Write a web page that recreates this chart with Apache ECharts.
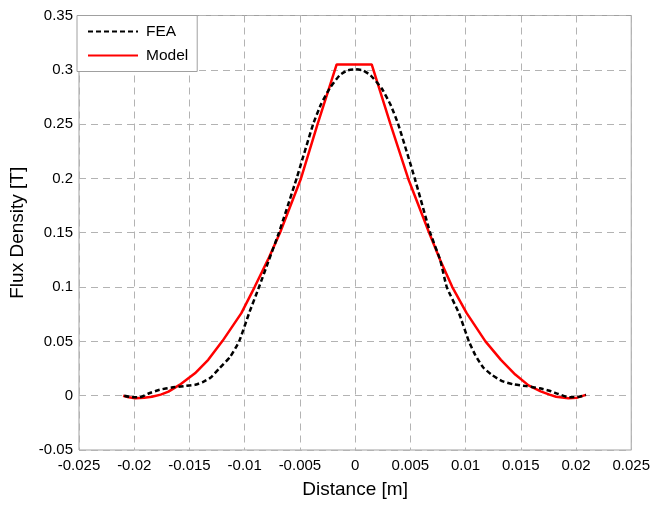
<!DOCTYPE html>
<html><head><meta charset="utf-8">
<script src="https://cdn.jsdelivr.net/npm/echarts@6/dist/echarts.min.js"></script>
<style>html,body{margin:0;padding:0;background:#fff}#c{width:653px;height:505px}</style>
</head><body><div id="c"></div>
<script>
const xTicks = [-0.025,-0.02,-0.015,-0.01,-0.005,0,0.005,0.01,0.015,0.02,0.025];
const yTicks = [-0.05,0,0.05,0.1,0.15,0.2,0.25,0.3,0.35];
const feaX = [-0.0209,-0.0202,-0.0195,-0.0187,-0.0177,-0.0166,-0.0155,-0.0145,-0.0138,-0.0131,-0.0123,-0.0113,-0.0105,-0.0096,-0.0087,-0.0078,-0.0069,-0.0053,-0.0038,-0.0031,-0.0023,-0.0014,-0.0007,0,0.0007,0.0014,0.0024,0.0032,0.0039,0.0054,0.0068,0.0077,0.0083,0.0094,0.0103,0.0109,0.0116,0.0124,0.0133,0.0143,0.0155,0.0167,0.0176,0.0184,0.0194,0.0203,0.0209];
const feaY = [0,-0.0015,-0.0015,0.002,0.0055,0.0075,0.0088,0.01,0.0125,0.0165,0.025,0.036,0.05,0.076,0.1,0.125,0.15,0.2,0.25,0.268,0.283,0.295,0.2995,0.3005,0.2995,0.295,0.283,0.268,0.25,0.2,0.15,0.125,0.1,0.076,0.05,0.037,0.026,0.019,0.0135,0.0105,0.0088,0.0068,0.0045,0.0015,-0.0015,-0.001,0.0007];
const modelX = [-0.021,-0.0205,-0.0199,-0.0191,-0.0184,-0.0176,-0.0169,-0.0159,-0.0145,-0.0133,-0.012,-0.0103,-0.0091,-0.0079,-0.0068,-0.0049,-0.0034,-0.00167,0.0015,0.0032,0.0048,0.0067,0.0077,0.0088,0.0101,0.0118,0.0132,0.0145,0.0157,0.0168,0.0176,0.0182,0.0193,0.0201,0.0209];
const modelY = [0,-0.0015,-0.0024,-0.002,-0.001,0.001,0.0037,0.0099,0.0206,0.033,0.0505,0.076,0.1,0.125,0.15,0.2,0.25,0.305,0.305,0.25,0.2,0.15,0.125,0.1,0.076,0.05,0.033,0.0195,0.0095,0.004,0.001,-0.001,-0.0024,-0.0018,0.0007];
const seriesNames = ['FEA','Model'];

const zip = (a,b) => a.map((v,i)=>[v,b[i]]);
const font = 'Liberation Sans, Arial, sans-serif';
const gridLine = {show:true, lineStyle:{color:'#b3b3b3', type:[7,5], width:1}};
const chart = echarts.init(document.getElementById('c'), null, {renderer:'canvas'});
chart.setOption({
  animation:false,
  backgroundColor:'#fff',
  grid:{left:77, right:21, top:15.5, bottom:55, show:true, borderColor:'#a0a0a0', borderWidth:1, containLabel:false},
  legend:{
    left:77, top:15.5, orient:'vertical', itemWidth:50, itemHeight:14, itemGap:8,
    padding:[8,9,8,10], backgroundColor:'#fff', borderColor:'#a0a0a0', borderWidth:1, borderRadius:0,
    itemStyle:{opacity:0},
    textStyle:{fontFamily:font, fontSize:15.5, color:'#000', padding:[0,0,0,3]},
    data:seriesNames
  },
  xAxis:{
    type:'value', min:xTicks[0], max:xTicks[xTicks.length-1], interval:0.005,
    name:'Distance [m]', nameLocation:'middle', nameGap:30,
    nameTextStyle:{fontFamily:font, fontSize:19, color:'#000'},
    axisLine:{show:false}, axisTick:{show:false},
    axisLabel:{fontFamily:font, fontSize:15, color:'#000', margin:8, formatter:v=>String(+v.toFixed(3))},
    splitLine:gridLine
  },
  yAxis:{
    type:'value', min:yTicks[0], max:yTicks[yTicks.length-1], interval:0.05,
    name:'Flux Density [T]', nameLocation:'middle', nameGap:52,
    nameTextStyle:{fontFamily:font, fontSize:19, color:'#000'},
    axisLine:{show:false}, axisTick:{show:false},
    axisLabel:{fontFamily:font, fontSize:15, color:'#000', margin:6, formatter:v=>String(+v.toFixed(2))},
    splitLine:gridLine
  },
  series:[
    {name:seriesNames[0], type:'line', data:zip(feaX,feaY), symbol:'none', smooth:0.15, z:3,
     lineStyle:{color:'#000', width:2.5, type:[5,3]}, itemStyle:{color:'#000'}},
    {name:seriesNames[1], type:'line', data:zip(modelX,modelY), symbol:'none', smooth:false, z:2,
     lineStyle:{color:'#ff0000', width:2.5}, itemStyle:{color:'#ff0000'}}
  ]
});
</script></body></html>
